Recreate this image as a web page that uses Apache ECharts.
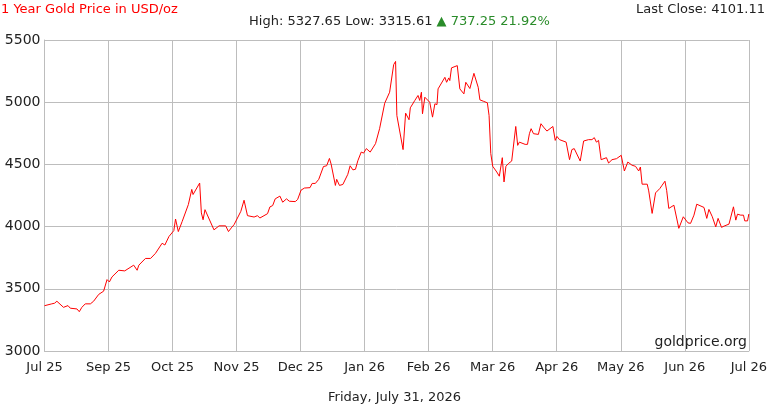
<!DOCTYPE html>
<html>
<head>
<meta charset="utf-8">
<script src="https://cdn.jsdelivr.net/npm/echarts@6/dist/echarts.min.js"></script>
<style>
html,body{margin:0;padding:0;background:#fff;}
#chart{width:770px;height:410px;}
</style>
</head>
<body>
<div id="chart"></div>
<script>
// Tick labels of the x axis (equally spaced)
var tickLabels = ['Jul 25','Sep 25','Oct 25','Nov 25','Dec 25','Jan 26','Feb 26','Mar 26','Apr 26','May 26','Jun 26','Jul 26'];
// Position of each point along the year (days from start)
var days = [0,3.4,4.7,5.8,8.9,11.0,12.1,15.2,16.3,17.5,19.1,21.5,23.0,25.4,27.7,29.3,30.4,31.6,34.8,37.6,
41.8,43.4,44.2,47.3,49.7,52.0,55.1,56.4,58.3,60.6,61.4,62.7,64.5,67.4,69.0,69.6,72.7,73.5,74.3,75.2,
79.4,81.8,84.9,86.2,87.8,88.8,90.4,92.0,92.8,93.5,94.3,95.1,98.2,99.0,99.8,100.9,104.5,105.6,106.9,108.1,
110.3,111.6,113.4,114.7,117.5,118.6,119.4,120.2,121.8,124.4,125.4,126.9,128.5,130.7,132.2,133.5,134.3,136.3,136.9,138.2,
139.8,142.1,143.2,144.5,145.7,146.8,148.4,149.5,150.8,152.6,155.1,157.0,159.4,161.7,162.5,163.6,164.5,165.1,168.0,169.2,
169.8,170.8,171.4,173.5,175.0,175.8,176.6,177.1,178.2,180.5,181.8,182.9,183.9,184.4,187.6,188.4,189.4,189.9,190.7,193.4,
194.6,195.4,196.5,197.4,199.3,200.1,201.2,203.2,204.0,205.6,207.5,208.3,209.1,210.0,211.9,213.1,213.7,214.5,215.3,216.2,
217.3,218.9,220.8,221.7,222.5,225.2,226.3,227.2,228.0,229.1,231.4,232.6,233.8,235.4,238.2,239.3,240.1,241.3,244.4,246.0,
247.1,248.2,251.0,252.6,254.9,256.5,257.6,258.6,259.6,260.8,263.3,264.3,265.9,268.0,270.2,271.7,273.3,275.3,276.9,277.7,
278.4,279.2,280.0,282.4,283.1,284.7,285.5,286.3,288.3,289.4,290.7,291.5,292.5,294.9,295.7,297.2,299.3,301.5,302.7,304.3,
305.6,309.0,310.3,311.3,312.9,314.5,315.6,316.5,317.2,318.4,320.7,322.8,323.9,324.7,326.2,327.5,328.1,329.4,330.0];
// Gold price in USD/oz
var prices = [3364,3379,3384,3400,3351,3365,3344,3338,3316,3351,3379,3379,3400,3455,3481,3574,3555,3595,3649,3644,
3690,3649,3690,3744,3744,3785,3866,3852,3920,3968,4061,3960,4041,4177,4299,4258,4350,4110,4055,4136,
3974,4006,4006,3960,3996,4015,4069,4123,4123,4212,4204,4088,4077,4069,4088,4069,4104,4158,4169,4223,
4245,4196,4223,4204,4201,4218,4212,4293,4310,4313,4347,4347,4380,4483,4489,4548,4502,4331,4380,4331,
4339,4420,4489,4456,4461,4529,4599,4591,4627,4599,4667,4787,4992,5080,5080,5302,5328,4893,4619,4912,
4920,4859,4955,5014,5054,5014,5080,4907,5040,5000,4880,4987,4981,5107,5200,5160,5195,5174,5276,5294,
5107,5115,5067,5160,5110,5099,5232,5120,5019,5008,4995,4893,4587,4485,4439,4405,4405,4554,4359,4485,
4506,4527,4805,4653,4679,4661,4661,4747,4787,4747,4741,4827,4800,4768,4805,4693,4725,4699,4679,4538,
4619,4627,4527,4688,4699,4699,4715,4679,4693,4538,4554,4511,4538,4546,4573,4447,4519,4493,4485,4493,
4447,4479,4341,4341,4287,4106,4098,4271,4306,4333,4365,4292,4146,4172,4180,3986,4079,4030,4026,4092,
4180,4154,4066,4138,4079,3998,4066,4052,3994,4004,4020,4159,4052,4100,4092,4092,4046,4046,4101.11];
// Header figures
var headerTitle = '1 Year Gold Price in USD/oz';
var lastClose = '4101.11';
var highText = '5327.65';
var lowText = '3315.61';
var changeText = '737.25 21.92%';
var dateText = 'Friday, July 31, 2026';
var sourceText = 'goldprice.org';

var FONT = '"DejaVu Sans", Verdana, sans-serif';
var chart = echarts.init(document.getElementById('chart'));
var seriesData = days.map(function (d, i) { return [d, prices[i]]; });

chart.setOption({
  animation: false,
  backgroundColor: '#fff',
  textStyle: { fontFamily: FONT },
  title: [
    { text: headerTitle, left: 1, top: 3, padding: 0,
      textStyle: { color: '#ff0000', fontSize: 13, fontWeight: 'normal', fontFamily: FONT } },
    { text: 'Last Close: ' + lastClose, right: 5, top: 3, padding: 0,
      textStyle: { color: '#222', fontSize: 13, fontWeight: 'normal', fontFamily: FONT } },
    { text: 'High: ' + highText + ' Low: ' + lowText + ' {g|\u25B2 ' + changeText + '}', left: 249, top: 15, padding: 0,
      textStyle: { color: '#222', fontSize: 13, fontWeight: 'normal', fontFamily: FONT,
        rich: { g: { color: '#2a8c2a', fontSize: 13, fontFamily: FONT } } } },
    { text: dateText, left: 328, top: 391, padding: 0,
      textStyle: { color: '#222', fontSize: 13, fontWeight: 'normal', fontFamily: FONT } }
  ],
  graphic: [
    { type: 'text', z: 100, style: { text: sourceText, x: 747, y: 342, align: 'right', verticalAlign: 'middle',
      fill: '#222', font: '14px ' + FONT } }
  ],
  grid: { left: 44.5, right: 21, top: 40, bottom: 59, containLabel: false },
  xAxis: {
    type: 'value', min: 0, max: 330, interval: 30,
    axisLine: { show: true, lineStyle: { color: '#bdbdbd', width: 1 } },
    axisTick: { show: false },
    splitLine: { show: true, lineStyle: { color: '#bdbdbd', width: 1 } },
    axisLabel: { color: '#222', fontSize: 13, margin: 10, fontFamily: FONT,
      showMinLabel: true, showMaxLabel: true,
      formatter: function (v) { return tickLabels[Math.round(v / 30)]; } }
  },
  yAxis: {
    type: 'value', min: 3000, max: 5500, interval: 500,
    axisLine: { show: true, lineStyle: { color: '#bdbdbd', width: 1 } },
    axisTick: { show: false },
    splitLine: { show: true, lineStyle: { color: '#bdbdbd', width: 1 } },
    axisLabel: { color: '#222', fontSize: 14, margin: 4, fontFamily: FONT,
      formatter: function (v) { return String(v); } }
  },
  series: [{
    type: 'line', data: seriesData, symbol: 'none', showSymbol: false,
    lineStyle: { color: '#ff0000', width: 1 }, itemStyle: { color: '#ff0000' }
  }]
});
</script>
</body>
</html>
